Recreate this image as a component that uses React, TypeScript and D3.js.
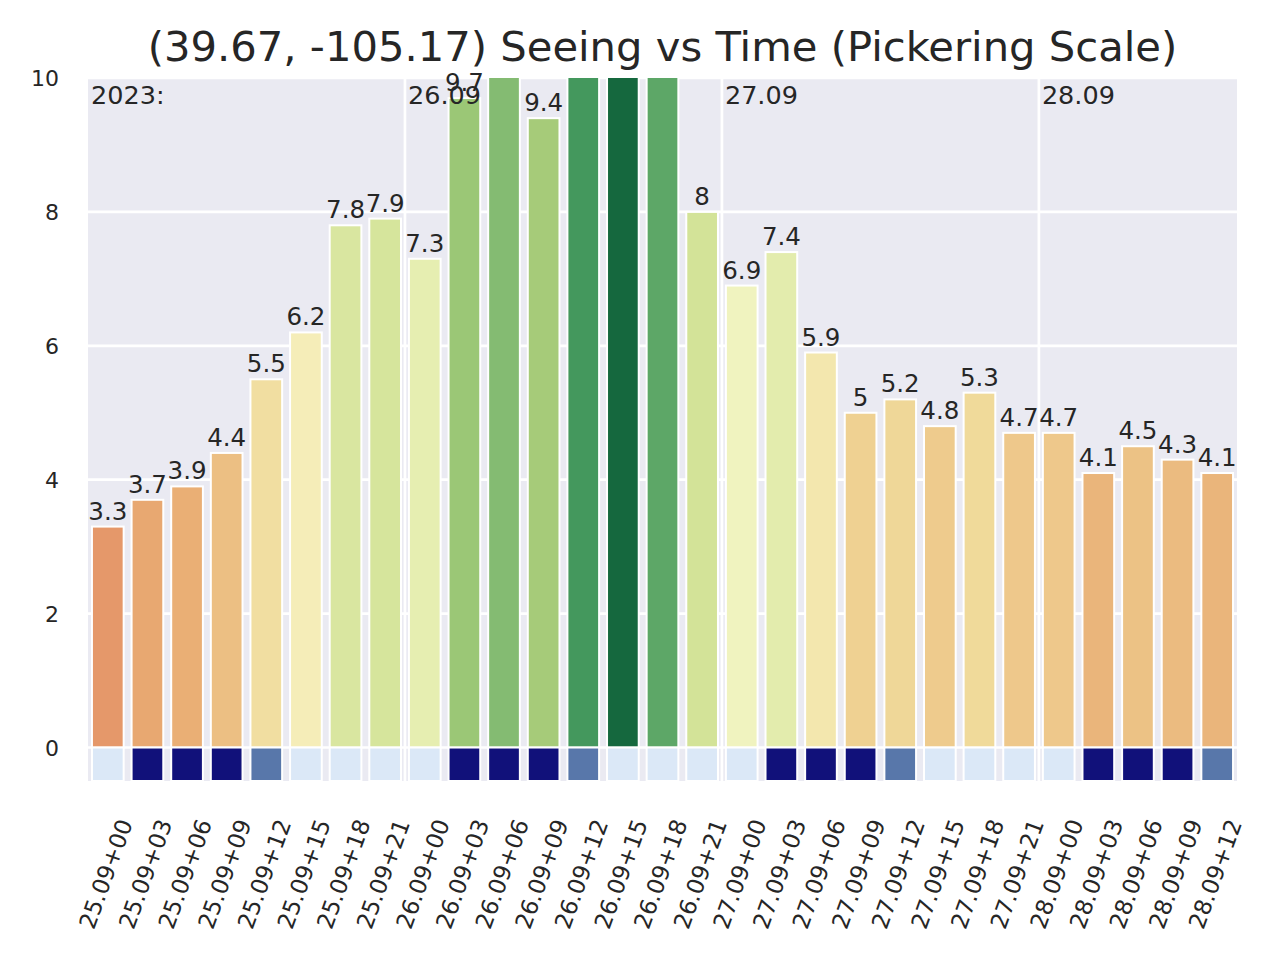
import * as d3 from "d3";

// (lat, lon) forecast, 3-hourly seeing on the Pickering scale
const title = "(39.67, -105.17) Seeing vs Time (Pickering Scale)";
const yearLabel = "2023:";

const timeLabels = [
  "25.09+00", "25.09+03", "25.09+06", "25.09+09", "25.09+12", "25.09+15", "25.09+18", "25.09+21",
  "26.09+00", "26.09+03", "26.09+06", "26.09+09", "26.09+12", "26.09+15", "26.09+18", "26.09+21",
  "27.09+00", "27.09+03", "27.09+06", "27.09+09", "27.09+12", "27.09+15", "27.09+18", "27.09+21",
  "28.09+00", "28.09+03", "28.09+06", "28.09+09", "28.09+12",
];

// values above 10 are clipped in the chart
const seeing = [
  3.3, 3.7, 3.9, 4.4, 5.5, 6.2, 7.8, 7.9,
  7.3, 9.7, 10.3, 9.4, 11.7, 13.2, 11.2, 8,
  6.9, 7.4, 5.9, 5, 5.2, 4.8, 5.3, 4.7,
  4.7, 4.1, 4.5, 4.3, 4.1,
];

const daylight = [
  "day", "night", "night", "night", "twilight", "day", "day", "day",
  "day", "night", "night", "night", "twilight", "day", "day", "day",
  "day", "night", "night", "night", "twilight", "day", "day", "day",
  "day", "night", "night", "night", "twilight",
];

const yTicks = [0, 2, 4, 6, 8, 10];

const W = 1280;
const H = 960;
const margin = { top: 78, right: 43, bottom: 179, left: 88 };
const textColor = "#262626";
const font = "DejaVu Sans, sans-serif";

export default function App() {
  const x = d3
    .scaleBand<string>()
    .domain(timeLabels)
    .range([margin.left, W - margin.right])
    .paddingInner(0.2)
    .paddingOuter(0.1);
  const step = x.step();
  const y = d3.scaleLinear().domain([-0.5, 10]).range([H - margin.bottom, margin.top]);

  // RdYlGn, linear segments like matplotlib, then seaborn-style desaturation
  const rdylgn = d3.piecewise(d3.interpolateRgb, d3.schemeRdYlGn[11] as string[]);
  const tScale = d3.scaleLinear().domain([-0.3, 13.6]).range([0, 1]).clamp(true);
  const barColor = (v: number) => {
    const c = d3.hsl(rdylgn(tScale(v)));
    c.s *= 0.75;
    return c.formatHex();
  };
  const dayColor = d3
    .scaleOrdinal<string, string>()
    .domain(["day", "twilight", "night"])
    .range(["#dbe8f7", "#5877aa", "#11117a"]);

  const center = (d: string) => x(d)! + x.bandwidth() / 2;
  const left = x.range()[0];
  const right = x.range()[1];
  const top = y.range()[1];
  const bottom = y.range()[0];

  // day boundaries: first slot and every "+00" slot
  const dayStarts = timeLabels
    .map((d, i) => ({ d, i }))
    .filter(({ d, i }) => i === 0 || d.endsWith("+00"));

  return (
    <svg width={W} height={H} style={{ position: "absolute", left: 0, top: 0 }} fontFamily={font}>
      <defs>
        <clipPath id="plot-clip">
          <rect x={left} y={top} width={right - left} height={bottom - top} />
        </clipPath>
      </defs>
      <rect x={0} y={0} width={W} height={H} fill="#ffffff" />
      <rect x={left} y={top} width={right - left} height={bottom - top} fill="#eaeaf2" />

      {yTicks.map((t) => (
        <line key={t} x1={left} x2={right} y1={y(t)} y2={y(t)} stroke="#ffffff" strokeWidth={2.7} />
      ))}
      {dayStarts
        .filter(({ i }) => i > 0)
        .map(({ d }) => {
          const bx = center(d) - step / 2;
          return <line key={d} x1={bx} x2={bx} y1={top} y2={bottom} stroke="#ffffff" strokeWidth={2.7} />;
        })}

      <g clipPath="url(#plot-clip)">
        {seeing.map((v, i) => (
          <rect
            key={i}
            x={x(timeLabels[i])}
            y={y(v)}
            width={x.bandwidth()}
            height={y(0) - y(v)}
            fill={barColor(v)}
            stroke="#ffffff"
            strokeWidth={2}
          />
        ))}
        {daylight.map((c, i) => (
          <rect
            key={i}
            x={x(timeLabels[i])}
            y={y(0)}
            width={x.bandwidth()}
            height={y(-0.5) - y(0)}
            fill={dayColor(c)}
            stroke="#ffffff"
            strokeWidth={2}
          />
        ))}
      </g>

      {seeing.map((v, i) =>
        v <= 10 ? (
          <text
            key={i}
            x={center(timeLabels[i])}
            y={y(v) - 7}
            textAnchor="middle"
            fontSize={24.5}
            fill={textColor}
          >
            {String(v)}
          </text>
        ) : null
      )}

      {dayStarts.map(({ d, i }) => (
        <text key={d} x={center(d) - step / 2 + 3} y={top + 26} fontSize={25.5} fill={textColor}>
          {i === 0 ? yearLabel : d.split("+")[0]}
        </text>
      ))}

      {yTicks.map((t) => (
        <text key={t} x={59} y={y(t) + 8} textAnchor="end" fontSize={22} fill={textColor}>
          {t}
        </text>
      ))}

      {timeLabels.map((d) => (
        <text
          key={d}
          transform={`translate(${center(d) - 2},${bottom + 93}) rotate(-70)`}
          textAnchor="middle"
          dy="0.35em"
          fontSize={23}
          fill={textColor}
        >
          {d}
        </text>
      ))}

      <text x={(left + right) / 2} y={61} textAnchor="middle" fontSize={41.7} fill={textColor}>
        {title}
      </text>
    </svg>
  );
}
